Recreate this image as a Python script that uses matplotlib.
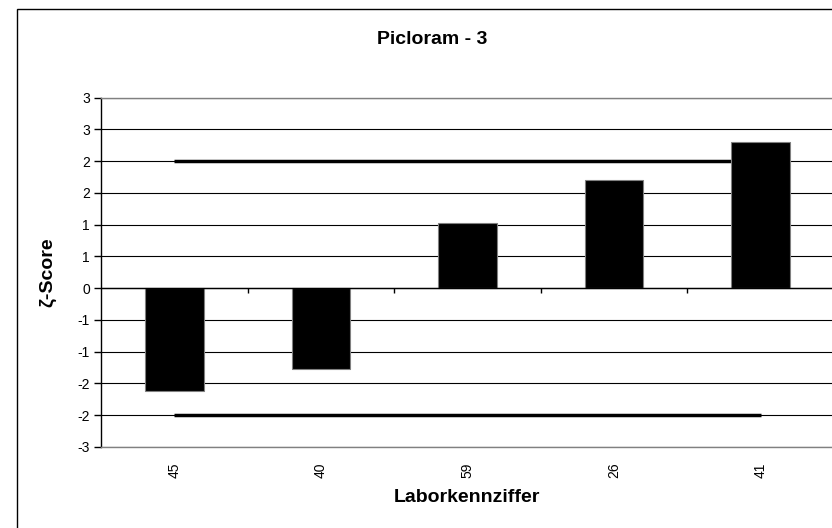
import math
import numpy as np
import matplotlib
matplotlib.use("Agg")
import matplotlib.pyplot as plt
from matplotlib.ticker import FuncFormatter, MultipleLocator
from matplotlib.patches import Rectangle

plt.rcParams['font.family'] = ['Liberation Sans', 'DejaVu Sans']

# data
labs = ['45', '40', '59', '26', '41']
zeta = [-1.62, -1.28, 1.02, 1.70, 2.30]
upper_limit = 2.0
lower_limit = -2.0
title = 'Picloram - 3'

W, H = 832, 528
fig = plt.figure(figsize=(W / 100, H / 100), dpi=100)

# excel-ish outer chart frame (runs off the right / bottom edge)
fig.patches.append(Rectangle((17 / W, -0.1), 1.0, 1 - 9 / H + 0.1,
                             transform=fig.transFigure, fill=False,
                             edgecolor='black', linewidth=1.0))

ax = fig.add_axes([101 / W, 1 - 447 / H, (834 - 101) / W, (447 - 97.6) / H])

x = np.arange(1, len(labs) + 1)

# gridlines every 0.5
ax.set_ylim(-2.5, 3.0)
ax.set_xlim(0.5, len(labs) + 0.5)
ax.yaxis.set_major_locator(MultipleLocator(0.5))
ax.grid(axis='y', color='black', linewidth=0.8, zorder=0)
ax.set_axisbelow(True)

# limit lines, bars drawn on top of them
ax.plot([x[0], x[-1]], [upper_limit, upper_limit], color='black', lw=2.5, zorder=2,
        solid_capstyle='butt')
ax.plot([x[0], x[-1]], [lower_limit, lower_limit], color='black', lw=2.5, zorder=2,
        solid_capstyle='butt')
ax.bar(x, zeta, width=0.4, color='black', edgecolor='#808080', linewidth=0.8, zorder=3)

# category axis crosses at zero
ax.axhline(0, color='black', lw=1.0, zorder=4)
bounds = np.arange(0.5, len(labs) + 0.5)
ax.vlines(bounds[1:], 0, -0.08, color='black', lw=1.0, zorder=4)

def excel_round(v, pos):
    r = math.floor(abs(v) + 0.5 + 1e-9)
    return str(int(math.copysign(r, v))) if r else '0'

ax.yaxis.set_major_formatter(FuncFormatter(excel_round))
ax.tick_params(axis='y', direction='out', length=5, width=1, pad=3, labelsize=10)
ax.set_xticks(x)
ax.set_xticklabels(labs, rotation=90, fontsize=10)
ax.tick_params(axis='x', length=0, pad=11)

for s in ['top', 'right', 'bottom']:
    ax.spines[s].set_color('#808080')
    ax.spines[s].set_linewidth(1.0)
ax.spines['left'].set_color('black')
ax.spines['left'].set_linewidth(1.0)

fig.text(432 / W, 1 - 40 / H, title, ha='center', va='center',
         fontsize=14, fontweight='bold')
fig.text(467 / W, 1 - 497 / H, 'Laborkennziffer', ha='center', va='center',
         fontsize=14, fontweight='bold')
fig.text(48 / W, 1 - 272 / H, 'ζ-Score', ha='center', va='center', rotation=90,
         fontsize=14, fontweight='bold')

fig.savefig('out.png', dpi=100)
